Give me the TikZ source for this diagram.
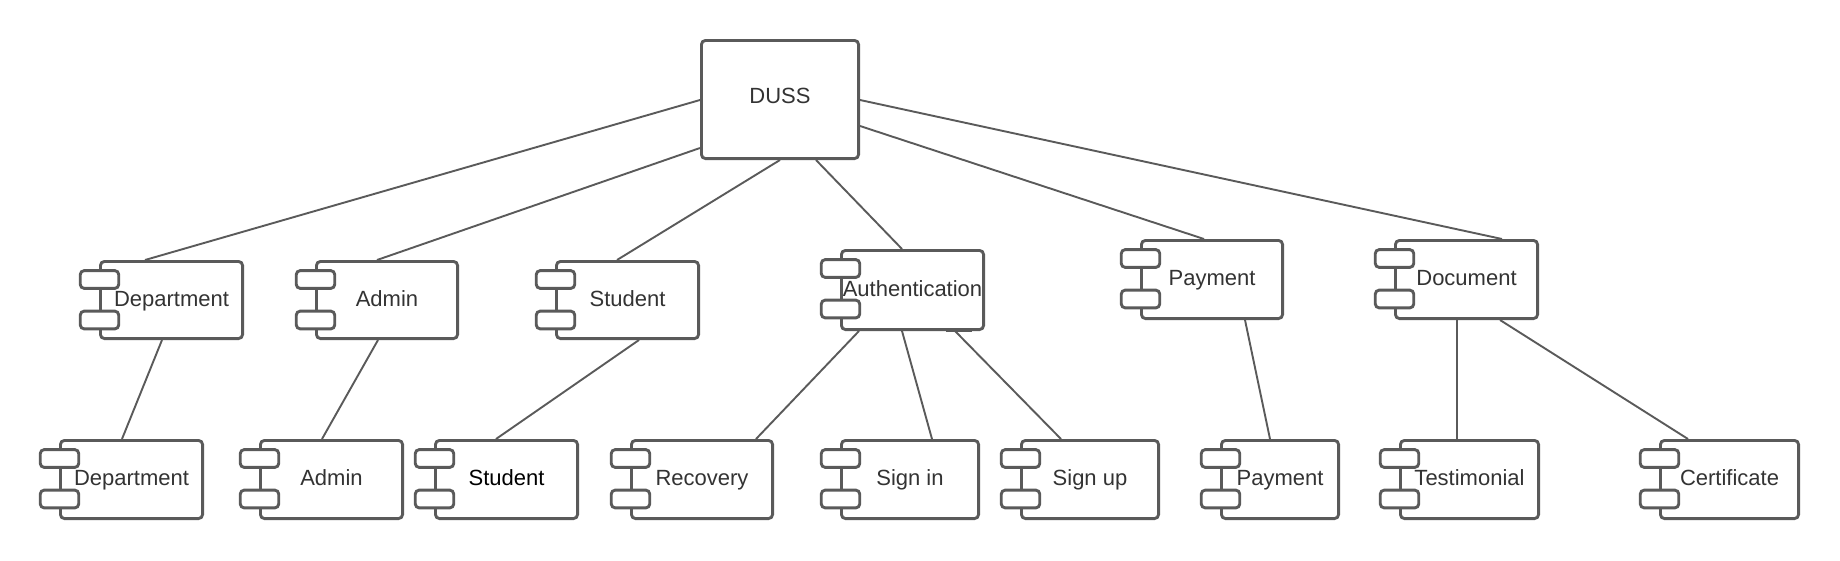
\documentclass[tikz,border=0pt]{standalone}
\usepackage{fontspec}
\setmainfont{Liberation Sans}
\usetikzlibrary{calc}
\definecolor{edge}{HTML}{5A5A5A}
\definecolor{ink}{HTML}{333333}
\tikzset{
  box/.style={draw=edge, line width=2.9pt, rounded corners=4pt, fill=white, inner sep=0pt, rectangle},
  port/.style={draw=edge, line width=2.9pt, rounded corners=4pt, fill=white, inner sep=0pt, rectangle, minimum width=38.5pt, minimum height=17.8pt},
  lbl/.style={text=ink, inner sep=0pt, font=\fontsize{22}{26}\selectfont, text height=16pt, text depth=4pt},
  conn/.style={draw=edge, line width=1.9pt}
}
\newcommand{\comp}[6]{%
  \node[box, minimum width={#4-#2-2.9}, minimum height={#5-#3-2.9}] (#1) at ({(#2+#4)/2},{(#3+#5)/2}) {};
  \node[port] (#1-a) at ({#2+0.5},{#3+19.5}) {};
  \node[port] (#1-b) at ({#2+0.5},{#3+60}) {};
  \node[lbl] (#1-t) at (#1) {#6};
}
\begin{document}
\begin{tikzpicture}[x=1pt,y=-1pt]
\useasboundingbox (0,0) rectangle (1840,560);
% root
\node[box, minimum width=157.1pt, minimum height=118.1pt] (duss) at (780,99.5) {};
\node[lbl] (duss-t) at (780,97) {DUSS};
% middle row
\comp{dep1}{99}{260}{244}{340}{Department}
\comp{adm1}{315}{260}{459}{340}{Admin}
\comp{stu1}{555}{260}{700}{340}{Student}
\comp{auth}{840}{249}{985}{331}{Authentication}
\comp{pay1}{1140}{239}{1284}{320}{Payment}
\comp{doc}{1394}{239}{1539}{320}{Document}
% bottom row
\comp{dep2}{59}{439}{204}{520}{Department}
\comp{adm2}{259}{439}{404}{520}{Admin}
\comp{stu2}{434}{439}{579}{520}{{\color{black}Student}}
\comp{rec}{630}{439}{774}{520}{Recovery}
\comp{sin}{840}{439}{980}{520}{Sign in}
\comp{sup}{1020}{439}{1160}{520}{Sign up}
\comp{pay2}{1220}{439}{1340}{520}{Payment}
\comp{tes}{1399}{439}{1540}{520}{Testimonial}
\comp{cer}{1659}{439}{1800}{520}{Certificate}
% root connectors
\draw[conn] (duss.west |- 0,100) -- (dep1.north -| 145,0);
\draw[conn] (duss.west |- 0,148) -- (adm1.north -| 377,0);
\draw[conn] (duss.south -| 780,0) -- (stu1.north -| 617,0);
\draw[conn] (duss.south -| 816,0) -- (auth.north -| 902,0);
\draw[conn] (duss.east |- 0,126) -- (pay1.north -| 1204,0);
\draw[conn] (duss.east |- 0,100) -- (doc.north -| 1502,0);
% second level connectors
\draw[conn] (dep1.south -| 162,0) -- (dep2.north -| 122,0);
\draw[conn] (adm1.south -| 378,0) -- (adm2.north -| 322,0);
\draw[conn] (stu1.south -| 639,0) -- (stu2.north -| 496,0);
\draw[conn] (auth.south -| 859,0) -- (rec.north -| 756,0);
\draw[conn] (auth.south -| 902,0) -- (sin.north -| 932,0);
\draw[conn] (auth.south -| 955,0) -- (sup.north -| 1061,0);
\draw[conn] (pay1.south -| 1245,0) -- (pay2.north -| 1270,0);
\draw[conn] (doc.south -| 1457,0) -- (tes.north -| 1457,0);
\draw[conn] (doc.south -| 1500,0) -- (cer.north -| 1688,0);
% small mark under Authentication
\draw[conn] ([yshift=-0.5pt]auth.south -| 946,0) -- ([yshift=-0.5pt]auth.south -| 972,0);
\end{tikzpicture}
\end{document}
